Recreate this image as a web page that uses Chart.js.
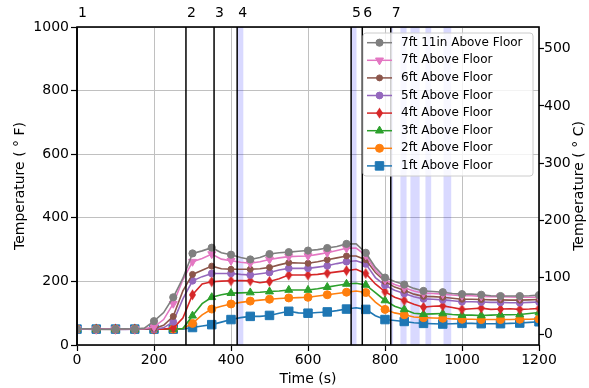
<!DOCTYPE html>
<html><head><meta charset="utf-8">
<script src="https://cdn.jsdelivr.net/npm/chart.js@4.4.1/dist/chart.umd.min.js"></script>
<style>html,body{margin:0;padding:0;background:#fff;} #wrap{width:589px;height:388px;position:relative;}</style>
</head><body><div id="wrap"><canvas id="c" width="589" height="388"></canvas></div>
<script>
// ---- data ----
const times = [0,25,50,75,100,125,150,175,200,225,250,275,300,325,350,375,400,425,450,475,500,525,550,575,600,625,650,675,700,725,750,775,800,825,850,875,900,925,950,975,1000,1025,1050,1075,1100,1125,1150,1175,1200];
const s7ft11in = [50,51,50,49,50,51,50,53,75,102,150,210,288,296,306,290,284,275,269,275,286,290,292,295,297,300,305,310,318,318,290,244,212,200,190,178,170,168,166,162,160,160,158,155,154,154,154,155,157];
const s7ft = [50,50,49,50,50,51,50,51,57,80,130,205,262,272,286,270,265,260,257,262,269,274,278,279,280,285,290,297,304,305,282,235,205,190,180,170,163,162,160,157,155,155,153,152,152,151,150,150,150];
const s6ft = [50,50,50,50,49,50,50,50,52,62,90,170,222,235,248,240,238,238,238,240,244,252,259,258,257,262,268,274,280,280,268,228,200,182,172,160,153,152,150,147,144,144,143,142,142,141,141,142,143];
const s5ft = [50,50,50,50,50,49,50,50,50,54,73,145,202,215,225,225,225,222,220,224,228,236,241,241,241,245,249,256,262,265,255,212,188,172,162,152,145,144,142,139,136,136,135,134,134,133,133,134,135];
const s4ft = [50,50,50,50,50,50,50,50,50,50,53,85,158,192,199,201,202,203,202,196,200,208,220,220,220,222,226,230,234,238,225,192,168,150,140,128,119,122,123,118,112,114,116,112,113,114,112,113,115];
const s3ft = [50,50,50,50,50,50,50,50,50,50,50,52,92,130,150,158,163,164,165,166,168,170,173,173,173,177,182,187,192,194,189,165,140,122,112,100,97,98,99,96,94,94,93,94,95,95,96,99,102];
const s2ft = [50,50,50,50,50,50,50,50,50,50,50,52,68,95,113,122,129,134,138,141,144,146,148,149,150,154,158,162,166,170,165,135,112,101,95,88,86,85,84,82,81,81,80,80,80,80,81,81,82];
const s1ft = [50,50,50,50,50,50,50,50,50,50,50,50,55,60,64,72,80,86,90,90,93,100,106,101,100,102,104,108,113,117,112,92,80,77,74,70,68,67,66,67,68,68,67,67,67,68,69,71,73];
const seriesNames = ['7ft 11in Above Floor','7ft Above Floor','6ft Above Floor','5ft Above Floor','4ft Above Floor','3ft Above Floor','2ft Above Floor','1ft Above Floor'];
const eventTimes = [0,283,356,416,712,741,815];
const eventLabels = ['1','2','3','4','5','6','7'];
const bandStarts = [416,712,815,840,866,905,952];
const bandEnds = [432,726,821,856,890,920,972];
const xTickValues = [0,200,400,600,800,1000,1200];
const fTickValues = [0,200,400,600,800,1000];
const cTickValues = [0,100,200,300,400,500];

// thin diamond marker
function thinDiamond(color){
  const c = document.createElement('canvas'); c.width = 9; c.height = 12;
  const g = c.getContext('2d');
  g.beginPath(); g.moveTo(4.5,0.5); g.lineTo(8,6); g.lineTo(4.5,11.5); g.lineTo(1,6); g.closePath();
  g.fillStyle = color; g.fill();
  return c;
}

const styles = [
  {color:'#7f7f7f', pointStyle:'circle', radius:3.6, rotation:0},
  {color:'#e377c2', pointStyle:'triangle', radius:4.6, rotation:180},
  {color:'#8c564b', pointStyle:'circle', radius:3.0, rotation:0},
  {color:'#9467bd', pointStyle:'circle', radius:3.4, rotation:0},
  {color:'#d62728', pointStyle:thinDiamond('#d62728'), radius:5, rotation:0},
  {color:'#2ca02c', pointStyle:'triangle', radius:4.6, rotation:0},
  {color:'#ff7f0e', pointStyle:'circle', radius:4.0, rotation:0},
  {color:'#1f77b4', pointStyle:'rect', radius:6.0, rotation:0}
];
const allSeries = [s7ft11in,s7ft,s6ft,s5ft,s4ft,s3ft,s2ft,s1ft];

const datasets = allSeries.map((s,i)=>({
  label: seriesNames[i],
  data: s.map((v,j)=>({x:times[j], y:v})),
  borderColor: styles[i].color,
  backgroundColor: styles[i].color,
  borderWidth: 1.6,
  pointStyle: styles[i].pointStyle,
  pointRotation: styles[i].rotation,
  pointRadius: ctx => (times[ctx.dataIndex] % 50 === 0 ? styles[i].radius : 0),
  pointHoverRadius: 0,
  pointBorderWidth: 1,
  pointBorderColor: styles[i].color,
  pointBackgroundColor: styles[i].color,
  tension: 0,
  fill: false,
  yAxisID: 'y'
}));

Chart.defaults.font.family = "'DejaVu Sans'";
Chart.defaults.font.size = 14;
Chart.defaults.color = '#000';

function drawMarker(ctx, st, x, y){
  if (Chart.helpers && Chart.helpers.drawPoint) {
    ctx.fillStyle = st.color; ctx.strokeStyle = st.color; ctx.lineWidth = 1;
    Chart.helpers.drawPoint(ctx, {pointStyle: st.pointStyle, rotation: st.rotation, radius: st.radius, borderWidth: 1}, x, y);
  }
}

const overlay = {
  id: 'overlay',
  beforeDatasetsDraw(chart){
    const {ctx, chartArea:a, scales:{x}} = chart;
    ctx.save();
    ctx.beginPath(); ctx.rect(a.left, a.top, a.right-a.left, a.bottom-a.top); ctx.clip();
    ctx.fillStyle = 'rgba(0,0,255,0.15)';
    bandStarts.forEach((s,i)=>{
      const x0 = x.getPixelForValue(s), x1 = x.getPixelForValue(bandEnds[i]);
      ctx.fillRect(x0, a.top, x1-x0, a.bottom-a.top);
    });
    ctx.restore();
  },
  afterDatasetsDraw(chart){
    const {ctx, chartArea:a, scales:{x}} = chart;
    ctx.save();
    // event lines
    ctx.strokeStyle = '#000'; ctx.lineWidth = 1.5;
    eventTimes.forEach(t=>{
      const px = x.getPixelForValue(t);
      ctx.beginPath(); ctx.moveTo(px, a.top); ctx.lineTo(px, a.bottom); ctx.stroke();
    });
    // frame
    ctx.lineWidth = 1.6;
    ctx.strokeRect(a.left, a.top, a.right-a.left, a.bottom-a.top);
    // event labels
    ctx.fillStyle = '#000';
    ctx.font = "14px 'DejaVu Sans'";
    ctx.textAlign = 'left'; ctx.textBaseline = 'middle';
    eventTimes.forEach((t,i)=>{
      ctx.fillText(eventLabels[i], x.getPixelForValue(t)+1, a.top-14);
    });
    // right axis title
    ctx.save();
    ctx.translate(579, (a.top+a.bottom)/2);
    ctx.rotate(-Math.PI/2);
    ctx.textAlign = 'center'; ctx.textBaseline = 'middle';
    ctx.fillText('Temperature ( ° C)', 0, 0);
    ctx.restore();
    // legend
    const lx = 363, ly = 33, lw = 170, lh = 143, r = 3;
    ctx.beginPath();
    ctx.moveTo(lx+r, ly); ctx.lineTo(lx+lw-r, ly); ctx.quadraticCurveTo(lx+lw, ly, lx+lw, ly+r);
    ctx.lineTo(lx+lw, ly+lh-r); ctx.quadraticCurveTo(lx+lw, ly+lh, lx+lw-r, ly+lh);
    ctx.lineTo(lx+r, ly+lh); ctx.quadraticCurveTo(lx, ly+lh, lx, ly+lh-r);
    ctx.lineTo(lx, ly+r); ctx.quadraticCurveTo(lx, ly, lx+r, ly); ctx.closePath();
    ctx.fillStyle = 'rgba(255,255,255,0.8)'; ctx.fill();
    ctx.strokeStyle = '#cccccc'; ctx.lineWidth = 1; ctx.stroke();
    chart.data.datasets.forEach((ds,i)=>{
      const yy = 42.7 + i*17.6;
      const st = styles[i];
      ctx.strokeStyle = st.color; ctx.lineWidth = 1.5;
      ctx.beginPath(); ctx.moveTo(367, yy); ctx.lineTo(392, yy); ctx.stroke();
      drawMarker(ctx, st, 379.5, yy);
      ctx.fillStyle = '#000';
      ctx.font = "12px 'DejaVu Sans'";
      ctx.textAlign = 'left'; ctx.textBaseline = 'middle';
      ctx.fillText(ds.label, 401, yy);
    });
    ctx.restore();
  }
};

const fMin = 0, fMax = 1000;
const plain = v => String(v);
new Chart(document.getElementById('c'), {
  type: 'line',
  data: { datasets },
  options: {
    responsive: false,
    animation: false,
    devicePixelRatio: 1,
    layout: { padding: { top: 27, right: 0, left: 0, bottom: 0 } },
    plugins: { legend: { display: false }, tooltip: { enabled: false } },
    scales: {
      x: {
        type: 'linear', position: 'bottom', min: 0, max: 1200,
        afterBuildTicks: s => { s.ticks = xTickValues.map(v=>({value:v})); },
        afterFit: s => { s.height = 43; },
        ticks: { padding: 1, maxRotation: 0, color: '#000', callback: plain },
        grid: { color: '#c0c0c0', lineWidth: 1, tickColor: '#000', tickLength: 6, tickWidth: 1.2 },
        border: { display: false },
        title: { display: true, text: 'Time (s)', padding: { top: 5, bottom: 0 }, font: { size: 14 } }
      },
      y: {
        type: 'linear', position: 'left', min: fMin, max: fMax,
        afterBuildTicks: s => { s.ticks = fTickValues.map(v=>({value:v})); },
        afterFit: s => { s.width = 77; },
        ticks: { padding: 2, color: '#000', callback: plain },
        grid: { color: '#c0c0c0', lineWidth: 1, tickColor: '#000', tickLength: 6, tickWidth: 1.2 },
        border: { display: false },
        title: { display: true, text: 'Temperature ( ° F)', padding: { top: 12, bottom: 0 }, font: { size: 14 } }
      },
      yC: {
        type: 'linear', position: 'right', min: (fMin-32)*5/9, max: (fMax-32)*5/9,
        afterBuildTicks: s => { s.ticks = cTickValues.map(v=>({value:v})); },
        afterFit: s => { s.width = 50; },
        ticks: { padding: 0, color: '#000', callback: plain },
        grid: { drawOnChartArea: false, tickColor: '#000', tickLength: 5, tickWidth: 1.2 },
        border: { display: false }
      }
    }
  },
  plugins: [overlay]
});
</script>
</body></html>
